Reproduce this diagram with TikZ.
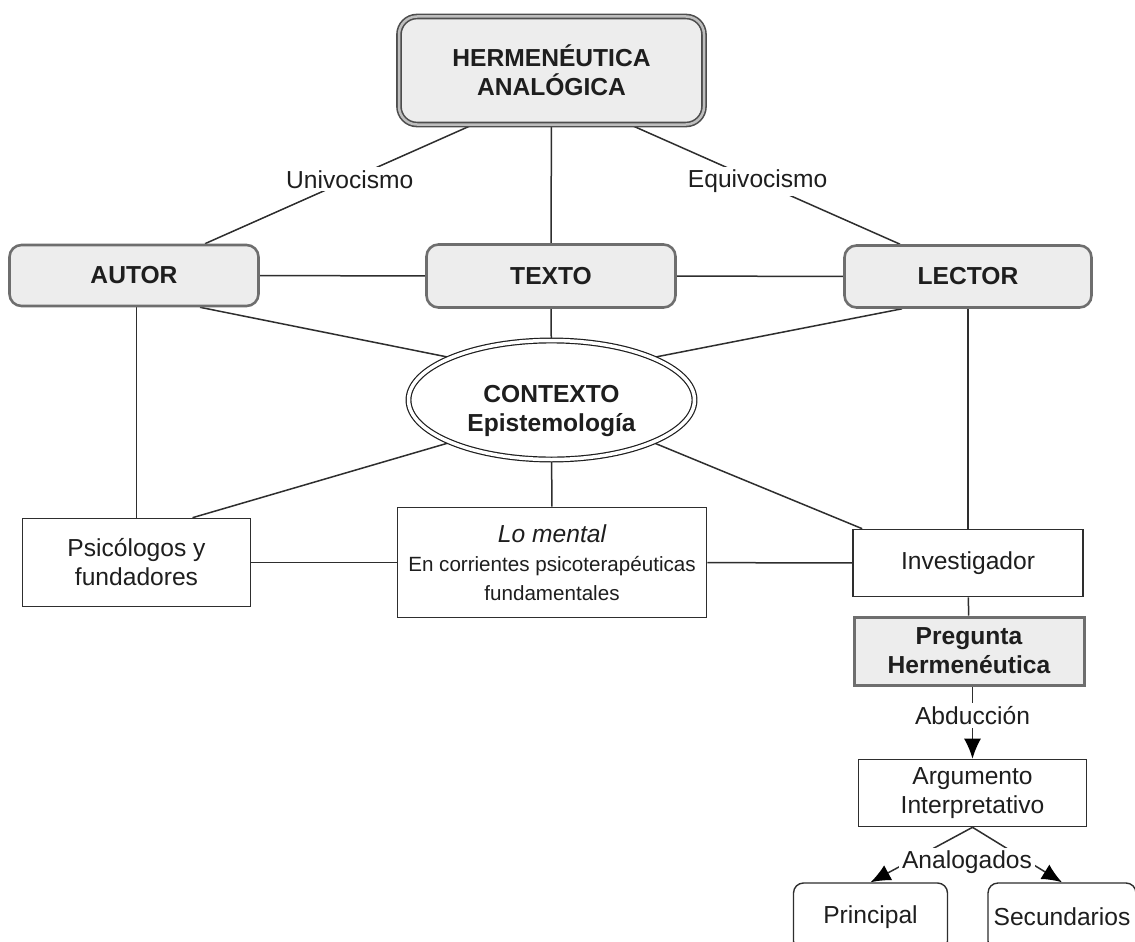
\documentclass[tikz,border=0pt]{standalone}
\usepackage{fontspec}
\setmainfont{Liberation Sans}
\usetikzlibrary{arrows.meta,shapes.geometric,calc,backgrounds}
\definecolor{boxfill}{HTML}{EDEDED}
\definecolor{boxdraw}{HTML}{6E6E6E}
\definecolor{ink}{HTML}{1E1E1E}
\definecolor{linec}{HTML}{2E2E2E}
\begin{document}
\begin{tikzpicture}[x=1pt,y=-1pt,
  font=\fontsize{24.6}{29}\selectfont, text=ink,
  gbox/.style={draw=boxdraw, line width=2.6pt, fill=boxfill, rounded corners=12pt,
    align=center, inner sep=0pt, font=\fontsize{24.6}{29}\selectfont\bfseries},
  wbox/.style={draw=linec, line width=1.6pt, fill=white, align=center, inner sep=0pt},
  rbox/.style={draw=linec, line width=1.4pt, fill=white, rounded corners=10pt, align=center, inner sep=0pt},
  conn/.style={draw=linec, line width=1.5pt},
  arr/.style={conn, -{Latex[length=20pt,width=17pt,fill=black,color=black]}},
  lab/.style={fill=white, inner sep=3pt, text=ink}
]
\clip (0,0) rectangle (1135,942);

% nodes
\node[draw=boxdraw!70!black, line width=1.6pt, double=boxdraw!45, double distance=2.5pt,
  fill=boxfill, rounded corners=18pt, minimum width=305pt, minimum height=108pt,
  inner sep=0pt, align=center, font=\fontsize{24.6}{29}\selectfont\bfseries] (ha) at (551.5,70.5) {HERMENÉUTICA\\ANALÓGICA};

\node[gbox, minimum width=249pt, minimum height=61pt] (autor) at (134,275.5) {AUTOR};
\node[gbox, minimum width=249pt, minimum height=63pt] (texto) at (551,276) {TEXTO};
\node[gbox, minimum width=247pt, minimum height=62pt] (lector) at (968,276.5) {LECTOR};

\node[ellipse, draw=ink, line width=1.2pt, double=white, double distance=3.5pt, fill=white,
  minimum width=286pt, minimum height=119pt, inner sep=0pt] (ctx) at (551.5,400) {};
\node[align=center, inner sep=0pt, font=\fontsize{24.6}{29}\selectfont\bfseries] (ctxt) at (551.5,411.5) {CONTEXTO\\Epistemología};

\node[wbox, minimum width=228pt, minimum height=88pt] (psico) at (136.5,562.5) {Psicólogos y\\fundadores};
\node[wbox, minimum width=309pt, minimum height=110pt, font=\fontsize{20.6}{29}\selectfont] (mental) at (552,562.5)
  {{\fontsize{24.6}{29}\selectfont\itshape Lo mental}\\En corrientes psicoterapéuticas\\fundamentales};
\node[wbox, minimum width=230pt, minimum height=67pt] (inv) at (968,563) {Investigador};

\node[draw=boxdraw, line width=3pt, fill=boxfill, minimum width=230pt, minimum height=68pt,
  inner sep=0pt, align=center, font=\fontsize{24.6}{29}\selectfont\bfseries] (preg) at (969,651) {Pregunta\\Hermenéutica};
\node[wbox, minimum width=228pt, minimum height=67pt] (arg) at (972.5,793) {Argumento\\Interpretativo};

\node[rbox, minimum width=154pt, minimum height=68pt] (princ) at (870.5,917) {Principal};
\node[rbox, minimum width=148pt, minimum height=68pt] (secund) at (1062,917) {Secundarios};

% connectors
\begin{scope}[on background layer]
\fill[white] (0,0) rectangle (1135,942);
\draw[conn] ($(ha.south)+(-80,0)$) -- node[lab, pos=0.457] (univ) {Univocismo} ($(autor.north)+(71,0)$);
\draw[conn] (ha) -- (texto);
\draw[conn] ($(ha.south)+(80,0)$) -- node[lab, pos=0.47] (equiv) {Equivocismo} ($(lector.north)+(-68,0)$);
\draw[conn] (autor) -- (texto);
\draw[conn] (texto) -- (lector);
\draw[conn] ($(autor.south)+(66,0)$) -- (ctx.north west);
\draw[conn] (texto) -- (ctx);
\draw[conn] ($(lector.south)+(-66,0)$) -- (ctx.north east);
\draw[conn] (psico.north) -- (psico.north |- autor.south);
\draw[conn] (lector) -- (inv);
\draw[conn] (ctx.south west) -- ($(psico.north)+(56,0)$);
\draw[conn] (ctx) -- (mental);
\draw[conn] (ctx.south east) -- ($(inv.north west)+(10,0)$);
\draw[conn] (psico) -- (mental);
\draw[conn] (mental) -- (inv);
\draw[conn] (inv) -- (preg);
\draw[arr] (preg.south -| arg) -- node[lab, pos=0.4] (abd) {Abducción} (arg.north);
\draw[arr] (arg.south) -- (princ.north);
\draw[arr] (arg.south) -- (secund.north);
\end{scope}
\node[lab] (analog) at (967,862) {Analogados};
\end{tikzpicture}
\end{document}
